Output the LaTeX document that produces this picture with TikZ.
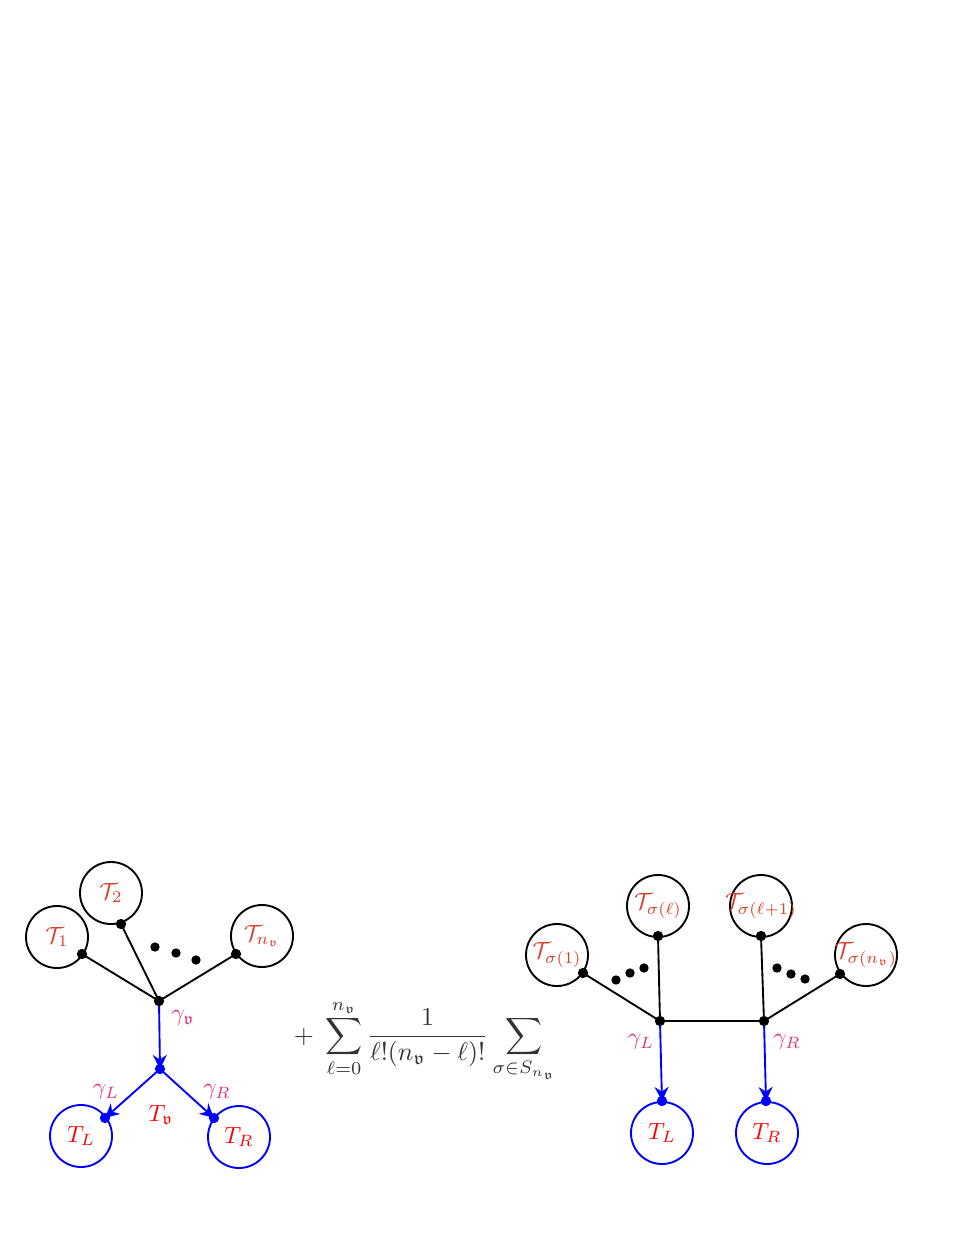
\documentclass[tikz,border=0pt]{standalone}
\usepackage{amsmath,amssymb}
\usetikzlibrary{arrows.meta,positioning}
\definecolor{treered}{HTML}{d8402a}
\definecolor{gampink}{HTML}{e8307a}

\begin{document}
\begin{tikzpicture}[x=0.015cm,y=-0.015cm,
    tree/.style={circle,draw,thick,minimum size=0.93cm,inner sep=0pt,
        label={[text=treered]center:#1}},
    btree/.style={circle,draw=blue,thick,minimum size=0.93cm,inner sep=0pt,text=red},
    leg/.style={thick},
    bleg/.style={thick,blue,-{Stealth[length=6pt,width=6pt]}},
    glab/.style={text=gampink}]

    \useasboundingbox (0,0) rectangle (954,1234);

    % left picture
    \node[tree={$\mathcal{T}_1$}] (t1) at (57,937) {};
    \node[tree={$\mathcal{T}_2$}] (t2) at (111,893) {};
    \node[tree={$\mathcal{T}_{n_{\mathfrak{v}}}$}] (tn) at (262,936) {};
    \coordinate (a1) at (82,954);
    \coordinate (a2) at (121,924);
    \coordinate (an) at (236,954);
    \coordinate (hub) at (159,1001);
    \coordinate (mid) at (160,1069);
    \coordinate (eL) at (105,1118);
    \coordinate (eR) at (214,1118);
    \node[btree] (tl) at (81,1136) {$T_L$};
    \node[btree] (tr) at (239,1137) {$T_R$};

    \draw[leg] (hub) -- (a1);
    \draw[leg] (hub) -- (a2);
    \draw[leg] (hub) -- (an);
    \draw[bleg] (hub) -- (mid);
    \draw[bleg] (mid) -- (eL);
    \draw[bleg] (mid) -- (eR);
    \foreach \p in {a1,a2,an,hub} \fill (\p) circle (2.2pt);
    \foreach \p in {mid,eL,eR} \fill[blue] (\p) circle (2.2pt);
    \foreach \x/\y in {155/947,176/953,196/960} \fill (\x,\y) circle (2pt);

    \node[glab] at (183,1018) {$\gamma_{\mathfrak{v}}$};
    \node[glab] at (106,1092) {$\gamma_L$};
    \node[glab] at (217,1092) {$\gamma_R$};
    \node[text=red] at (161,1115) {$T_{\mathfrak{v}}$};

    % formula
    \node[text=black!80,scale=1.1] at (425,1041)
        {$+\;\displaystyle\sum_{\ell=0}^{n_{\mathfrak{v}}}\frac{1}{\ell!(n_{\mathfrak{v}}-\ell)!}\sum_{\sigma\in S_{n_{\mathfrak{v}}}}$};

    % right picture
    \node[tree={$\mathcal{T}_{\sigma(1)}$}] (s1) at (557,955) {};
    \node[tree={$\mathcal{T}_{\sigma(\ell)}$}] (sl) at (658,906) {};
    \node[tree={$\mathcal{T}_{\sigma(\ell+1)}$}] (sl1) at (761,906) {};
    \node[tree={$\mathcal{T}_{\sigma(n_{\mathfrak{v}})}$}] (sn) at (866,955) {};
    \coordinate (b1) at (583,973);
    \coordinate (bl) at (658,936);
    \coordinate (bl1) at (761,936);
    \coordinate (bn) at (840,974);
    \coordinate (hl) at (660,1021);
    \coordinate (hr) at (764,1021);
    \coordinate (fL) at (662,1101);
    \coordinate (fR) at (766,1101);
    \node[btree] (ul) at (662,1133) {$T_L$};
    \node[btree] (ur) at (767,1133) {$T_R$};

    \draw[leg] (hl) -- (b1);
    \draw[leg] (hl) -- (bl);
    \draw[leg] (hl) -- (hr);
    \draw[leg] (hr) -- (bl1);
    \draw[leg] (hr) -- (bn);
    \draw[bleg] (hl) -- (fL);
    \draw[bleg] (hr) -- (fR);
    \foreach \p in {b1,bl,bl1,bn,hl,hr} \fill (\p) circle (2.2pt);
    \foreach \p in {fL,fR} \fill[blue] (\p) circle (2.2pt);
    \foreach \x/\y in {616/980,630/973,644/968,777/968,791/974,805/979} \fill (\x,\y) circle (2pt);

    \node[glab] at (641,1042) {$\gamma_L$};
    \node[glab] at (787,1042) {$\gamma_R$};

\end{tikzpicture}
\end{document}
